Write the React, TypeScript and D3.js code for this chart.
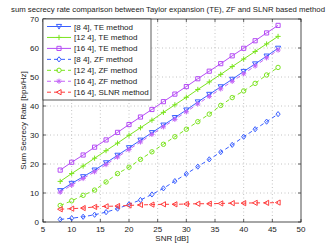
import React, { useRef, useEffect } from "react";
import { select, scaleLinear, line } from "d3";

const snr = [8, 10, 12, 14, 16, 18, 20, 22, 24, 26, 28, 30, 32, 34, 36, 38, 40, 42, 44, 46];

const te84 = [10.8, 13.3, 15.6, 17.9, 20.4, 23.0, 25.6, 28.2, 30.8, 33.4, 36.0, 38.6, 41.4, 44.0, 46.6, 49.2, 51.9, 54.5, 57.2, 59.9];
const te124 = [14.0, 16.7, 19.3, 22.0, 24.6, 27.2, 29.9, 32.5, 35.1, 37.8, 40.4, 43.0, 45.7, 48.3, 50.9, 53.6, 56.2, 58.8, 61.4, 64.0];
const te164 = [17.9, 20.6, 23.1, 25.8, 28.3, 30.9, 33.6, 36.2, 38.8, 41.5, 44.1, 46.7, 49.4, 52.0, 54.6, 57.3, 59.9, 62.5, 65.2, 67.8];
const zf84 = [0.9, 1.3, 1.8, 2.5, 3.4, 4.6, 6.1, 7.6, 9.5, 11.6, 14.1, 16.6, 19.1, 21.6, 24.1, 26.6, 29.4, 32.0, 34.6, 37.2];
const zf124 = [5.7, 7.3, 9.2, 11.0, 13.8, 16.7, 18.9, 21.6, 24.2, 26.8, 29.4, 32.0, 34.6, 37.2, 40.2, 42.9, 45.2, 47.8, 50.7, 53.3];
const zf164 = [10.3, 12.7, 15.0, 17.3, 19.8, 22.4, 25.0, 27.6, 30.2, 32.8, 35.4, 38.0, 40.7, 43.3, 45.9, 48.5, 51.1, 53.8, 56.6, 59.3];
const slnr164 = [4.4, 4.6, 4.8, 5.2, 5.4, 5.5, 5.7, 5.9, 6.0, 6.1, 6.1, 6.2, 6.3, 6.3, 6.4, 6.5, 6.5, 6.6, 6.6, 6.7];

const xTicks = [5, 10, 15, 20, 25, 30, 35, 40, 45, 50];
const yTicks = [0, 10, 20, 30, 40, 50, 60, 70];

const seriesNames = [
  "[8 4], TE method",
  "[12 4], TE method",
  "[16 4], TE method",
  "[8 4], ZF method",
  "[12 4], ZF method",
  "[16 4], ZF method",
  "[16 4], SLNR method",
];

const series = [
  { values: te84, color: "#3a5fff", dashed: false, marker: "tridown" },
  { values: te124, color: "#7be41e", dashed: false, marker: "plus" },
  { values: te164, color: "#b54cf5", dashed: false, marker: "square" },
  { values: zf84, color: "#3a5fff", dashed: true, marker: "diamond" },
  { values: zf124, color: "#7be41e", dashed: true, marker: "circle" },
  { values: zf164, color: "#c465f7", dashed: true, marker: "star" },
  { values: slnr164, color: "#ff3c3c", dashed: true, marker: "trileft" },
];

// little marker paths centred on 0,0
const markerPath = (kind: string, s: number) => {
  switch (kind) {
    case "tridown":
      return `M${-s},${-s * 0.8}L${s},${-s * 0.8}L0,${s}Z`;
    case "trileft":
      return `M${-s},0L${s * 0.8},${-s}L${s * 0.8},${s}Z`;
    case "plus":
      return `M${-s},0L${s},0M0,${-s}L0,${s}`;
    case "square":
      return `M${-s * 0.8},${-s * 0.8}h${s * 1.6}v${s * 1.6}h${-s * 1.6}Z`;
    case "diamond":
      return `M0,${-s}L${s * 0.8},0L0,${s}L${-s * 0.8},0Z`;
    case "circle":
      return `M${s * 0.85},0A${s * 0.85},${s * 0.85} 0 1,1 ${-s * 0.85},0A${s * 0.85},${s * 0.85} 0 1,1 ${s * 0.85},0`;
    case "star":
      return `M${-s},0L${s},0M0,${-s}L0,${s}M${-s * 0.7},${-s * 0.7}L${s * 0.7},${s * 0.7}M${-s * 0.7},${s * 0.7}L${s * 0.7},${-s * 0.7}`;
    default:
      return "";
  }
};

const App = () => {
  const svgRef = useRef<SVGSVGElement>(null);

  useEffect(() => {
    const width = 332;
    const height = 250;
    const margin = { top: 19, right: 31, bottom: 28, left: 43 };
    const innerW = width - margin.left - margin.right;
    const innerH = height - margin.top - margin.bottom;
    const font = "'Liberation Sans', Arial, sans-serif";

    const svg = select(svgRef.current).attr("width", width).attr("height", height);
    svg.selectAll("*").remove();

    const xScale = scaleLinear().domain([5, 50]).range([0, innerW]);
    const yScale = scaleLinear().domain([0, 70]).range([innerH, 0]);

    svg.append("rect").attr("width", width).attr("height", height).attr("fill", "#fff");

    svg
      .append("text")
      .attr("x", margin.left + innerW / 2 - 4)
      .attr("y", 12)
      .attr("text-anchor", "middle")
      .attr("font-family", font)
      .attr("font-size", 7.6)
      .attr("textLength", 314)
      .attr("lengthAdjust", "spacingAndGlyphs")
      .attr("fill", "#222")
      .text("sum secrecy rate comparison between Taylor expansion (TE), ZF and SLNR based method");

    const g = svg
      .append("g")
      .attr("transform", "translate(" + margin.left + "," + margin.top + ")");

    // grid
    g.selectAll(".xgrid")
      .data(xTicks.slice(1, -1))
      .join("line")
      .attr("x1", (d) => xScale(d))
      .attr("x2", (d) => xScale(d))
      .attr("y1", 0)
      .attr("y2", innerH)
      .attr("stroke", "#b5b5b5")
      .attr("stroke-width", 0.8)
      .attr("stroke-dasharray", "1,2.5");
    g.selectAll(".ygrid")
      .data(yTicks.slice(1, -1))
      .join("line")
      .attr("x1", 0)
      .attr("x2", innerW)
      .attr("y1", (d) => yScale(d))
      .attr("y2", (d) => yScale(d))
      .attr("stroke", "#b5b5b5")
      .attr("stroke-width", 0.8)
      .attr("stroke-dasharray", "1,2.5");

    // ticks inward on all four sides
    const tk = 3;
    xTicks.forEach((t) => {
      g.append("line").attr("x1", xScale(t)).attr("x2", xScale(t)).attr("y1", innerH).attr("y2", innerH - tk).attr("stroke", "#222").attr("stroke-width", 0.7);
      g.append("line").attr("x1", xScale(t)).attr("x2", xScale(t)).attr("y1", 0).attr("y2", tk).attr("stroke", "#222").attr("stroke-width", 0.7);
      g.append("text")
        .attr("x", xScale(t))
        .attr("y", innerH + 10)
        .attr("text-anchor", "middle")
        .attr("font-family", font)
        .attr("font-size", 8)
        .attr("fill", "#222")
        .text(t);
    });
    yTicks.forEach((t) => {
      g.append("line").attr("x1", 0).attr("x2", tk).attr("y1", yScale(t)).attr("y2", yScale(t)).attr("stroke", "#222").attr("stroke-width", 0.7);
      g.append("line").attr("x1", innerW).attr("x2", innerW - tk).attr("y1", yScale(t)).attr("y2", yScale(t)).attr("stroke", "#222").attr("stroke-width", 0.7);
      g.append("text")
        .attr("x", -4)
        .attr("y", yScale(t) + 3)
        .attr("text-anchor", "end")
        .attr("font-family", font)
        .attr("font-size", 8)
        .attr("fill", "#222")
        .text(t);
    });

    // lines + markers
    const lineGen = line<number>()
      .x((d, i) => xScale(snr[i]))
      .y((d) => yScale(d));

    series.forEach((s) => {
      g.append("path")
        .attr("d", lineGen(s.values))
        .attr("fill", "none")
        .attr("stroke", s.color)
        .attr("stroke-width", 1)
        .attr("stroke-dasharray", s.dashed ? "4,3" : null);
      g.selectAll(null)
        .data(s.values)
        .join("path")
        .attr("transform", (d, i) => `translate(${xScale(snr[i])},${yScale(d)})`)
        .attr("d", markerPath(s.marker, 2.6))
        .attr("fill", "none")
        .attr("stroke", s.color)
        .attr("stroke-width", 1);
    });

    // box
    g.append("rect")
      .attr("width", innerW)
      .attr("height", innerH)
      .attr("fill", "none")
      .attr("stroke", "#222")
      .attr("stroke-width", 0.8);

    // legend
    const rowH = 10.95;
    const legend = g.append("g");
    legend
      .append("rect")
      .attr("x", 0)
      .attr("y", 0)
      .attr("width", 108)
      .attr("height", 81)
      .attr("fill", "#fff")
      .attr("stroke", "#333")
      .attr("stroke-width", 0.8);
    series.forEach((s, i) => {
      const y = 7.5 + i * rowH;
      legend
        .append("line")
        .attr("x1", 4)
        .attr("x2", 28)
        .attr("y1", y)
        .attr("y2", y)
        .attr("stroke", s.color)
        .attr("stroke-width", 1)
        .attr("stroke-dasharray", s.dashed ? "4,3" : null);
      legend
        .append("path")
        .attr("transform", `translate(16,${y})`)
        .attr("d", markerPath(s.marker, 2.6))
        .attr("fill", "none")
        .attr("stroke", s.color)
        .attr("stroke-width", 1);
      legend
        .append("text")
        .attr("x", 31)
        .attr("y", y + 3)
        .attr("font-family", font)
        .attr("font-size", 8)
        .attr("fill", "#222")
        .text(seriesNames[i]);
    });

    // axis labels
    svg
      .append("text")
      .attr("x", margin.left + innerW / 2)
      .attr("y", 241)
      .attr("text-anchor", "middle")
      .attr("font-family", font)
      .attr("font-size", 8)
      .attr("fill", "#222")
      .text("SNR [dB]");
    svg
      .append("text")
      .attr("transform", `translate(26,${margin.top + innerH / 2}) rotate(-90)`)
      .attr("text-anchor", "middle")
      .attr("font-family", font)
      .attr("font-size", 8)
      .attr("fill", "#222")
      .text("Sum Secrecy Rate [bps/Hz]");
  }, []);

  return (
    <div style={{ position: "absolute", left: 0, top: 0 }}>
      <svg ref={svgRef}></svg>
    </div>
  );
};

export default App;
